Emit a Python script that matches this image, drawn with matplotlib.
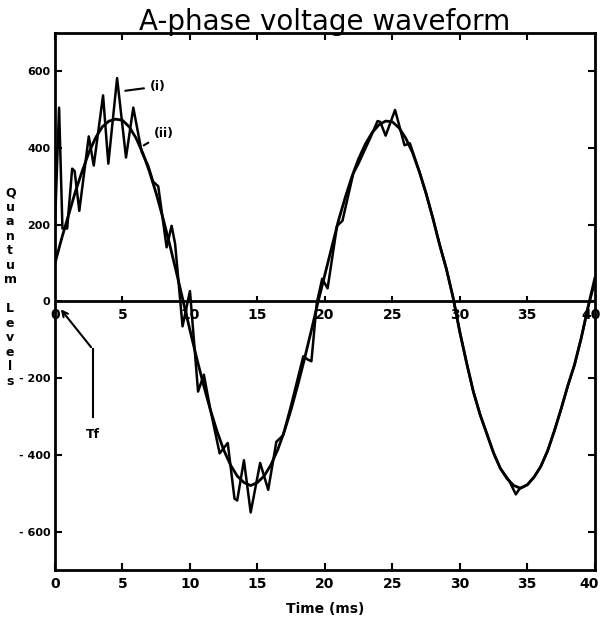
import matplotlib
matplotlib.use("Agg")
import matplotlib.pyplot as plt
import matplotlib.transforms as mtransforms

# smooth reference wave (ii), sampled every 0.5 ms
smooth_t = [i * 0.5 for i in range(81)]
smooth_v = [
    100, 165, 225, 285, 338, 387, 426, 455, 470, 475,
    472, 455, 426, 387, 338, 281, 217, 148, 75, 0,
    -75, -148, -217, -281, -338, -387, -426, -455, -472, -480,
    -472, -455, -426, -387, -338, -281, -217, -148, -75, 0,
    70, 140, 210, 270, 325, 372, 410, 440, 460, 470,
    468, 452, 425, 387, 338, 281, 217, 148, 85, 10,
    -80, -160, -235, -295, -345, -395, -435, -462, -480, -487,
    -478, -458, -430, -390, -338, -281, -220, -165, -95, -15,
    60,
]

# quantized waveform (i), vertices
noisy_t = [0.0, 0.3, 0.55, 0.9, 1.27, 1.45, 1.8, 2.5, 2.87, 3.56, 3.95, 4.6,
           5.26, 5.8, 6.42, 6.9, 7.27, 7.65, 8.27, 8.64, 8.9, 9.45, 10.0, 10.2,
           10.6, 11.03, 11.5, 12.2, 12.8, 13.3, 13.5, 14.0, 14.5, 15.2, 15.8,
           16.4, 16.9, 17.5, 18.4, 18.75, 19.0, 19.4, 19.8, 20.2, 20.9, 21.3,
           22.1, 22.5, 23.35, 23.9, 24.1, 24.5, 25.2, 25.9, 26.3, 27.0, 27.5,
           28.0, 28.5, 29.0, 29.5, 30.0, 30.5, 31.0, 31.5, 32.0, 32.5, 33.0,
           33.65, 34.15, 34.45, 35.0, 35.5, 36.0, 36.5, 37.0, 37.5, 38.0, 38.5,
           39.0, 39.5, 40.0]
noisy_v = [200, 505, 190, 190, 346, 340, 236, 430, 354, 537, 359, 582,
           375, 505, 390, 354, 312, 300, 141, 197, 150, -65, 27, -60,
           -235, -191, -280, -396, -369, -514, -519, -414, -550, -421, -491,
           -366, -349, -270, -143, -152, -156, -4, 59, 34, 197, 210,
           333, 360, 425, 470, 468, 432, 499, 407, 412, 338, 281,
           217, 148, 85, 10, -80, -160, -235, -295, -345, -395, -435,
           -467, -503, -487, -478, -458, -430, -390, -338, -281, -220, -165,
           -95, -15, 50]

x_ticks = [0, 5, 10, 15, 20, 25, 30, 35, 40]
y_ticks = [-600, -400, -200, 0, 200, 400, 600]

fig = plt.figure(figsize=(6.02, 6.31), dpi=100)
ax = fig.add_axes([0.0914, 0.0967, 0.8966, 0.8513])

ax.plot(smooth_t, smooth_v, color="black", lw=2.0)
ax.plot(noisy_t, noisy_v, color="black", lw=1.8)
ax.axhline(0, color="black", lw=2.0)

ax.set_xlim(0, 40)
ax.set_ylim(-700, 700)
ax.set_xticks(x_ticks)
ax.set_yticks(y_ticks)
ax.set_xticklabels([str(t) for t in x_ticks], fontweight="bold", fontsize=10)
ax.set_yticklabels([str(v).replace("-", "- ") for v in y_ticks],
                   fontweight="bold", fontsize=8)
ax.tick_params(direction="in", top=True, right=True, length=5, width=1.5,
               labelright=False, labeltop=False)
ax.tick_params(axis="x", pad=5)
for s in ax.spines.values():
    s.set_linewidth(2.0)
# keep the last bottom label inside the figure
last = ax.get_xticklabels()[-1]
last.set_transform(last.get_transform() +
                   mtransforms.ScaledTranslation(-4 / 72, 0, fig.dpi_scale_trans))

# ticks and labels along the zero line
ax.vlines(x_ticks[1:-1], 0, 14, color="black", lw=1.5)
for t in x_ticks:
    ax.text(min(t, 39.75), -18, str(t), ha="center", va="top", fontsize=10,
            fontweight="bold")

ax.set_title("A-phase voltage waveform", fontsize=20, pad=2)
ax.set_xlabel("Time (ms)", fontsize=10, fontweight="bold", labelpad=8)
fig.text(0.017, 0.545, "\n".join("Quantum") + "\n\n" + "\n".join("Levels"),
         ha="center", va="center", fontsize=9, fontweight="bold",
         linespacing=1.15)

# curve labels
ax.annotate("(i)", xy=(5.0, 548), xytext=(7.0, 560), fontsize=9,
            fontweight="bold", va="center",
            arrowprops=dict(arrowstyle="-", color="black", lw=1.5))
ax.annotate("(ii)", xy=(6.4, 403), xytext=(7.3, 437), fontsize=9,
            fontweight="bold", va="center",
            arrowprops=dict(arrowstyle="-", color="black", lw=1.5))
ax.plot([2.8, 2.8], [-300, -125], color="black", lw=1.5)
ax.annotate("", xy=(0.3, -15), xytext=(2.8, -125),
            arrowprops=dict(arrowstyle="->", color="black", lw=1.5))
ax.text(2.8, -330, "Tf", ha="center", va="top", fontsize=9, fontweight="bold")

fig.savefig("out.png", dpi=100)
